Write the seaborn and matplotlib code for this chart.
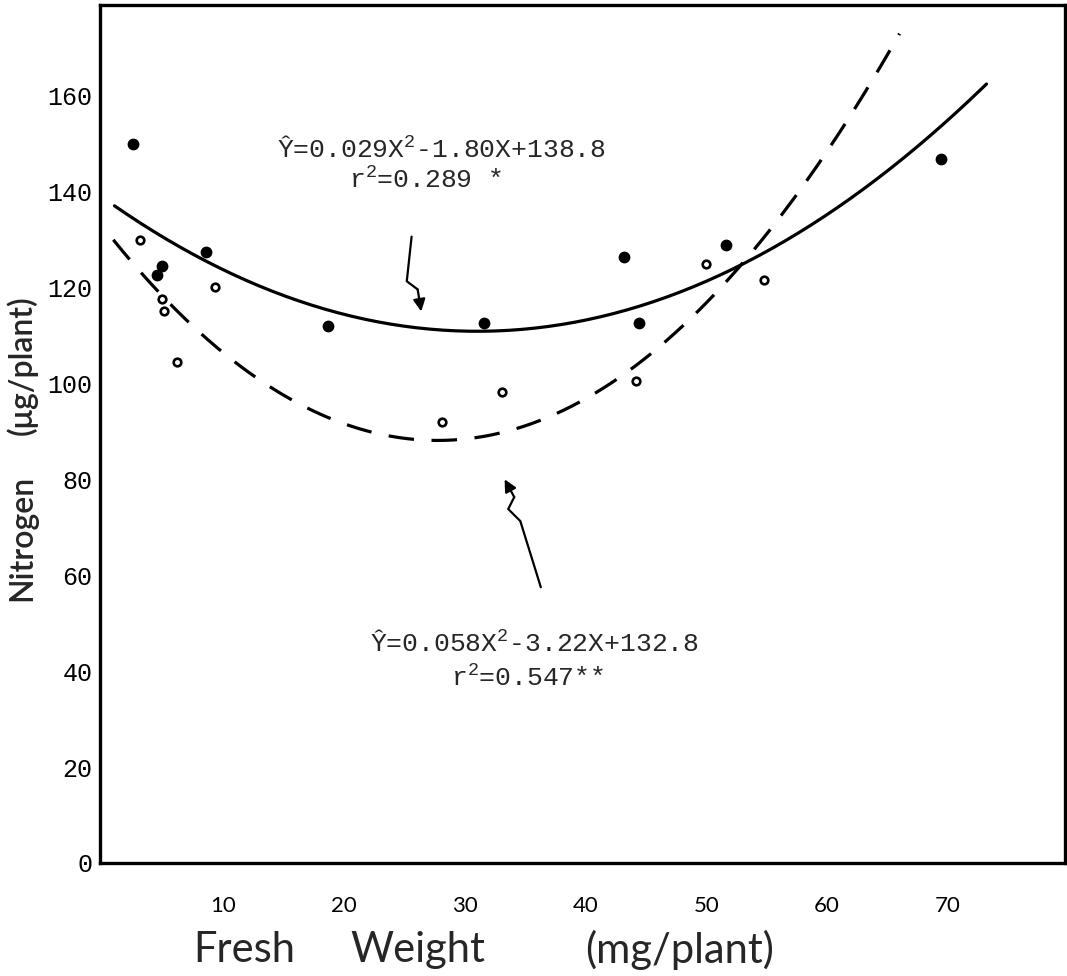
import numpy as np
import pandas as pd
import matplotlib
matplotlib.use("Agg")
from matplotlib import pyplot as plt
import seaborn as sns

# Data: fresh weight (mg/plant) vs nitrogen (ug/plant)
filled_weight = [2.5, 4.5, 4.9, 8.6, 18.7, 31.6, 43.2, 44.4, 51.6, 69.4]
filled_nitrogen = [150.0, 122.5, 124.5, 127.5, 112.0, 112.5, 126.3, 112.6, 128.8, 146.8]
open_weight = [3.1, 4.9, 5.1, 6.2, 9.3, 28.1, 33.1, 44.2, 50.0, 54.8]
open_nitrogen = [130.0, 117.5, 115.0, 104.5, 120.0, 92.0, 98.2, 100.5, 124.8, 121.6]

# regression equations as printed on the chart (x^2, x, constant)
solid_coef = [0.029, -1.80, 138.8]
dashed_coef = [0.058, -3.22, 132.8]
solid_span = [1.0, 73.2]
dashed_span = [0.9, 66.0]

solid_text = ["Ŷ=0.029X$^2$-1.80X+138.8", "r$^2$=0.289 *"]
dashed_text = ["Ŷ=0.058X$^2$-3.22X+132.8", "r$^2$=0.547**"]

x_ticks = [10, 20, 30, 40, 50, 60, 70]
y_ticks = [0, 20, 40, 60, 80, 100, 120, 140, 160]

sns.set_style("white")
mono = "Liberation Mono"
sans = "Lato"
plt.rcParams["mathtext.fontset"] = "custom"
plt.rcParams["mathtext.rm"] = mono
plt.rcParams["mathtext.it"] = mono
plt.rcParams["mathtext.bf"] = mono

fig = plt.figure(figsize=(10.67, 9.76), dpi=100)
ax = fig.add_axes([100 / 1067, 1 - 863 / 976, 965 / 1067, 858 / 976])

# fitted curves
xs = np.linspace(solid_span[0], solid_span[1], 200)
curve_solid = pd.DataFrame({"x": xs, "y": np.polyval(solid_coef, xs)})
xd = np.linspace(dashed_span[0], dashed_span[1], 200)
curve_dashed = pd.DataFrame({"x": xd, "y": np.polyval(dashed_coef, xd)})

sns.lineplot(data=curve_solid, x="x", y="y", ax=ax, color="black", lw=2.3, sort=False)
sns.lineplot(data=curve_dashed, x="x", y="y", ax=ax, color="black", lw=2.3,
             linestyle=(0, (8, 5.5)), sort=False)

# points
sns.scatterplot(x=filled_weight, y=filled_nitrogen, ax=ax, color="black",
                s=72, linewidth=0, zorder=3)
sns.scatterplot(x=open_weight, y=open_nitrogen, ax=ax, facecolor="white",
                edgecolor="black", s=30, linewidth=1.9, zorder=3)

# hand drawn arrows pointing at the curves
arrow_solid = [(25.6, 130.6), (25.2, 121.3), (26.1, 119.6), (26.4, 115.0)]
arrow_dashed = [(36.3, 57.5), (34.6, 71.3), (33.6, 73.8), (34.1, 76.3), (33.3, 80.0)]
for path in [arrow_solid, arrow_dashed]:
    px = [p[0] for p in path[:-1]]
    py = [p[1] for p in path[:-1]]
    ax.plot(px, py, color="black", lw=1.6)
    ax.annotate("", xy=path[-1], xytext=path[-2],
                arrowprops=dict(arrowstyle="-|>", color="black", lw=1.6,
                                mutation_scale=18, shrinkA=0, shrinkB=0))

# equations
ax.text(28.1, 147.3, solid_text[0], ha="center", va="baseline",
        family=mono, fontsize=19)
ax.text(26.8, 140.7, solid_text[1], ha="center", va="baseline",
        family=mono, fontsize=19)
ax.text(35.8, 44.3, dashed_text[0], ha="center", va="baseline",
        family=mono, fontsize=19)
ax.text(35.2, 37.0, dashed_text[1], ha="center", va="baseline",
        family=mono, fontsize=19)

ax.set_xlim(-0.2, 79.7)
ax.set_ylim(0, 178.9)
ax.set_xticks(x_ticks)
ax.set_yticks(y_ticks)
ax.set_xticklabels([str(t) for t in x_ticks], family=sans, fontsize=16)
ax.set_yticklabels([str(t) for t in y_ticks], family=mono, fontsize=18)
ax.tick_params(axis="both", direction="inout", length=9, width=1.6, color="black",
               labelcolor="black")
ax.tick_params(axis="x", pad=19)
ax.tick_params(axis="y", pad=1)
ax.set_xlabel("")
ax.set_ylabel("")
for side in ["left", "right", "top", "bottom"]:
    ax.spines[side].set_visible(True)
    ax.spines[side].set_color("black")
    ax.spines[side].set_linewidth(2.4)

# axis titles, words spaced out as in the original
x_words = [("Fresh", 244), ("Weight", 418), ("(mg/plant)", 680)]
for word, xpos in x_words:
    fig.text(xpos / 1067, 1 - 950 / 976, word, ha="center", va="center",
             family=sans, fontsize=30)
y_words = [("Nitrogen", 538), ("(μg/plant)", 365)]
for word, ypos in y_words:
    fig.text(22 / 1067, 1 - ypos / 976, word, ha="center", va="center",
             rotation=90, family=sans, fontsize=23, fontweight="semibold")

fig.savefig("out.png", dpi=100, facecolor="white")
